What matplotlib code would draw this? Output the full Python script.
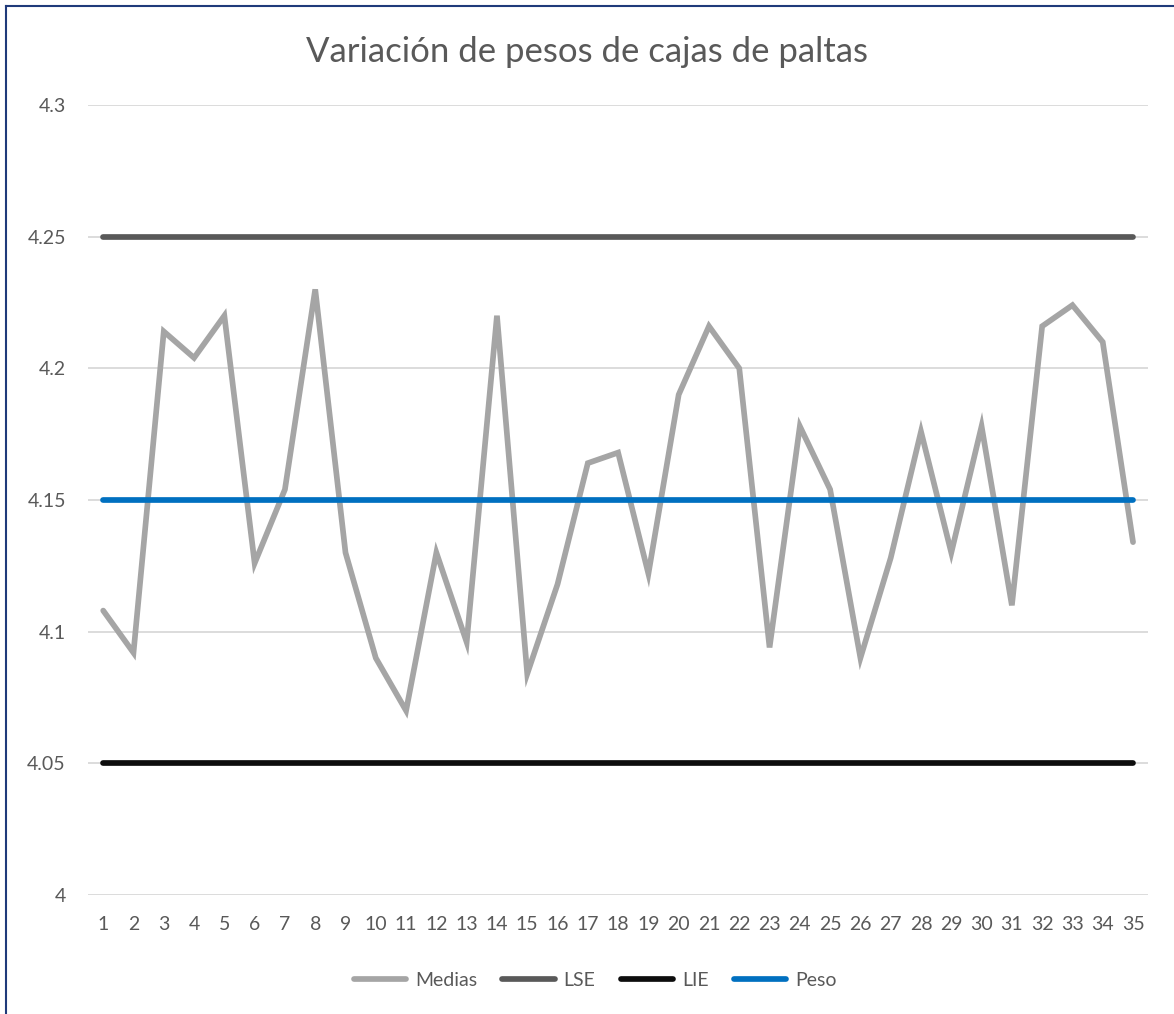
import numpy as np
import matplotlib
matplotlib.use("Agg")
import matplotlib.pyplot as plt
from matplotlib.lines import Line2D

plt.rcParams['font.family'] = ['Lato', 'DejaVu Sans']

# data
muestras = list(range(1, 36))
medias = [4.108, 4.092, 4.214, 4.204, 4.220, 4.126, 4.154, 4.230, 4.130, 4.090,
          4.070, 4.130, 4.096, 4.220, 4.084, 4.118, 4.164, 4.168, 4.122, 4.190,
          4.216, 4.200, 4.094, 4.178, 4.154, 4.090, 4.128, 4.176, 4.130, 4.178,
          4.110, 4.216, 4.224, 4.210, 4.134]
lse = 4.25
lie = 4.05
peso = 4.15
yticks = [4, 4.05, 4.1, 4.15, 4.2, 4.25, 4.3]
ytick_labels = ['4', '4.05', '4.1', '4.15', '4.2', '4.25', '4.3']

txt = '#595959'
fig = plt.figure(figsize=(11.74, 10.14), dpi=100)
ax = fig.add_axes([0.075, 0.1174, 0.903, 0.779])

n = len(muestras)
lw = 4.1
ax.plot(muestras, medias, color='#A5A5A5', lw=lw, solid_capstyle='round',
        solid_joinstyle='miter', label='Medias', zorder=3)
ax.plot(muestras, [lse] * n, color='#595959', lw=lw, solid_capstyle='round',
        label='LSE', zorder=4)
ax.plot(muestras, [lie] * n, color='#0D0D0D', lw=lw, solid_capstyle='round',
        label='LIE', zorder=4)
ax.plot(muestras, [peso] * n, color='#0070C0', lw=lw, solid_capstyle='round',
        label='Peso', zorder=5)

ax.set_xlim(0.5, n + 0.5)
ax.set_ylim(4.0, 4.3)
ax.set_xticks(muestras)
ax.set_xticklabels([str(m) for m in muestras])
ax.set_yticks(yticks)
ax.set_yticklabels(ytick_labels)
ax.tick_params(axis='both', length=0, labelsize=14, labelcolor=txt)
ax.tick_params(axis='x', pad=15)
ax.tick_params(axis='y', pad=16)
ax.grid(axis='y', color='#D9D9D9', lw=1.3)
ax.set_axisbelow(True)
for s in ax.spines.values():
    s.set_visible(False)

fig.suptitle('Variación de pesos de cajas de paltas', y=0.949, va='center',
             fontsize=25, color=txt)

fig.legend(loc='center', bbox_to_anchor=(0.507, 0.033), ncol=4, frameon=False,
           fontsize=14, labelcolor=txt, handlelength=2.7, handletextpad=0.45,
           columnspacing=1.3)

# chart border (Excel frame)
fig.add_artist(Line2D([0.005, 0.005], [0, 0.994], transform=fig.transFigure,
                      color='#1F3A7A', lw=1.5))
fig.add_artist(Line2D([0.005, 1.0], [0.994, 0.994], transform=fig.transFigure,
                      color='#1F3A7A', lw=1.5))

fig.savefig('out.png', dpi=100)
